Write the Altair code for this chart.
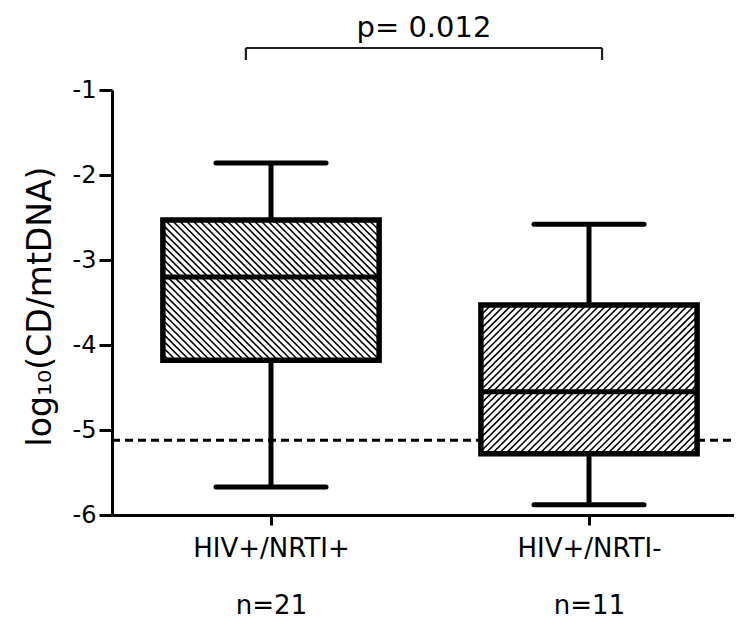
import altair as alt
import pandas as pd

# ---- data ----
groups = ["HIV+/NRTI+", "HIV+/NRTI-"]
counts = ["n=21", "n=11"]
positions = [1, 2]
whisker_low = [-5.67, -5.88]
q1 = [-4.18, -5.28]
median = [-3.20, -4.55]
q3 = [-2.53, -3.53]
whisker_high = [-1.86, -2.58]
hatch_dir = ["\\", "/"]
detection_limit = [-5.12]
p_label = ["p= 0.012"]
y_ticks = [-1, -2, -3, -4, -5, -6]

# ---- layout constants ----
W, H = 622, 425
X_DOM = [0.5, 0.5 + W / 318.0]
Y_DOM = [-6, -1]
PX_X = W / (X_DOM[1] - X_DOM[0])
PX_Y = H / (Y_DOM[1] - Y_DOM[0])
BOX_HALF = 0.34
CAP_HALF = 0.173
FONT = "DejaVu Sans"

box = pd.DataFrame({
    "pos": positions, "low": whisker_low, "q1": q1, "med": median,
    "q3": q3, "high": whisker_high,
})
box["xl"] = box["pos"] - BOX_HALF
box["xr"] = box["pos"] + BOX_HALF
box["cl"] = box["pos"] - CAP_HALF
box["cr"] = box["pos"] + CAP_HALF


def hatch(xc, lo, hi, direction, step=6.8):
    w = 2 * BOX_HALF * PX_X
    h = (hi - lo) * PX_Y
    x0 = xc - BOX_HALF
    segs = []
    if direction == "\\":
        c = -w + step / 2
        while c < h:
            u1, u2 = max(0.0, -c), min(w, h - c)
            if u2 > u1:
                segs.append((u1, u1 + c, u2, u2 + c))
            c += step
    else:
        c = step / 2
        while c < w + h:
            u1, u2 = max(0.0, c - h), min(w, c)
            if u2 > u1:
                segs.append((u1, c - u1, u2, c - u2))
            c += step
    return [{"x": x0 + a / PX_X, "y": hi - b / PX_Y,
             "x2": x0 + cc / PX_X, "y2": hi - d / PX_Y} for a, b, cc, d in segs]


hrows = []
for i in range(len(positions)):
    hrows += hatch(positions[i], q1[i], q3[i], hatch_dir[i])
hdf = pd.DataFrame(hrows)

xs = alt.Scale(domain=X_DOM, nice=False, zero=False)
ys = alt.Scale(domain=Y_DOM, nice=False, zero=False)

label_map = " : ".join(
    f"datum.value == {p} ? ['{g}', '{n}']" for p, g, n in zip(positions, groups, counts)
) + " : ''"

x_axis = alt.Axis(values=positions, labelExpr=label_map, title="", grid=False,
                  tickSize=10, tickWidth=3, tickColor="black", domainWidth=3,
                  domainColor="black", labelFont=FONT, labelFontSize=26,
                  labelColor="black", labelPadding=10, labelLineHeight=57,
                  labelFlush=False, labelOverlap=False, labelAngle=0)
y_axis = alt.Axis(values=y_ticks, labelExpr="'' + datum.value",
                  title="log₁₀(CD/mtDNA)", grid=False, tickSize=13, tickWidth=3,
                  tickColor="black", domainWidth=3, domainColor="black",
                  labelFont=FONT, labelFontSize=24, labelColor="black",
                  labelPadding=3, titleFont=FONT, titleFontSize=33,
                  titleFontWeight="normal", titleColor="black", titleX=-72,
                  titleY=216, titleBaseline="middle", titleAlign="center")


def X(f):
    return alt.X(f, scale=xs, axis=x_axis)


def Y(f):
    return alt.Y(f, scale=ys, axis=y_axis)


# dashed detection limit line
dl = pd.DataFrame({"y": detection_limit, "x": [X_DOM[0]], "x2": [X_DOM[1]]})
dashed = alt.Chart(dl).mark_rule(strokeDash=[8, 5], strokeWidth=3, color="black").encode(
    x=X("x:Q"), x2="x2:Q", y=Y("y:Q"),
)

fill = alt.Chart(box).mark_rect(fill="white").encode(
    x=X("xl:Q"), x2="xr:Q", y=Y("q1:Q"), y2="q3:Q",
)

hatch_layer = alt.Chart(hdf).mark_rule(strokeWidth=1.6, color="black").encode(
    x=X("x:Q"), x2="x2:Q", y=Y("y:Q"), y2="y2:Q",
)

whisk_hi = alt.Chart(box).mark_rule(strokeWidth=5, color="black").encode(
    x=X("pos:Q"), y=Y("q3:Q"), y2="high:Q",
)
whisk_lo = alt.Chart(box).mark_rule(strokeWidth=5, color="black").encode(
    x=X("pos:Q"), y=Y("q1:Q"), y2="low:Q",
)
cap_hi = alt.Chart(box).mark_rule(strokeWidth=5, color="black", strokeCap="round").encode(
    x=X("cl:Q"), x2="cr:Q", y=Y("high:Q"),
)
cap_lo = alt.Chart(box).mark_rule(strokeWidth=5, color="black", strokeCap="round").encode(
    x=X("cl:Q"), x2="cr:Q", y=Y("low:Q"),
)
outline = alt.Chart(box).mark_rect(fillOpacity=0, stroke="black", strokeWidth=5.5).encode(
    x=X("xl:Q"), x2="xr:Q", y=Y("q1:Q"), y2="q3:Q",
)
med = alt.Chart(box).mark_rule(strokeWidth=5, color="black").encode(
    x=X("xl:Q"), x2="xr:Q", y=Y("med:Q"),
)

# significance bracket
BR_Y, BR_TICK = -0.506, -0.647
BR_L, BR_R = 0.921, 2.041
br = pd.DataFrame({
    "x": [BR_L, BR_L, BR_R], "x2": [BR_R, BR_L, BR_R],
    "y": [BR_Y, BR_Y, BR_Y], "y2": [BR_Y, BR_TICK, BR_TICK],
})
bracket = alt.Chart(br).mark_rule(strokeWidth=2.2, color="#222").encode(
    x=X("x:Q"), x2="x2:Q", y=Y("y:Q"), y2="y2:Q",
)
pt = pd.DataFrame({"label": p_label, "x": [(BR_L + BR_R) / 2], "y": [-0.376]})
ptext = alt.Chart(pt).mark_text(font=FONT, fontSize=29, baseline="alphabetic",
                                align="center", color="black").encode(
    x=X("x:Q"), y=Y("y:Q"), text="label:N",
)

chart = alt.layer(
    dashed, fill, hatch_layer, whisk_hi, whisk_lo, cap_hi, cap_lo, outline, med,
    bracket, ptext,
).properties(
    width=W, height=H,
    autosize=alt.AutoSizeParams(type="none"),
    padding={"left": 104, "top": 82, "right": 0, "bottom": 106},
).configure_view(stroke=None)

chart.save("out.html", embed_options={"renderer": "svg", "actions": False})
